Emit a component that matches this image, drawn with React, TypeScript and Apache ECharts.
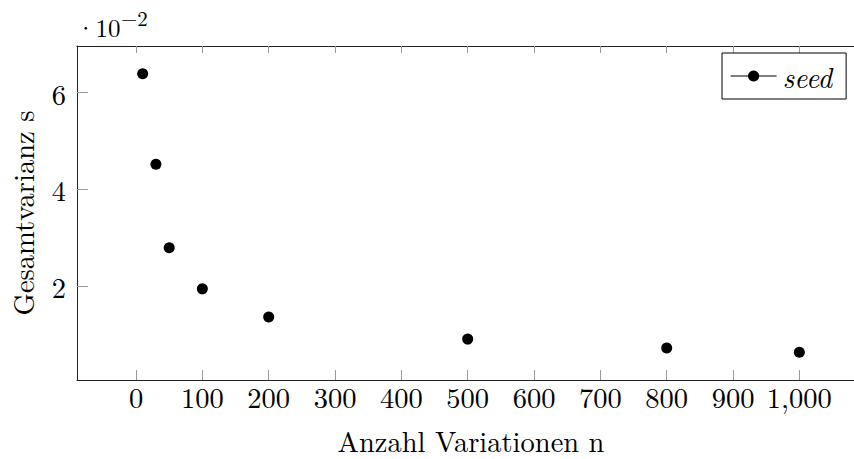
import React, { useEffect, useRef } from "react";
import * as echarts from "echarts";

const variations = [10, 30, 50, 100, 200, 500, 800, 1000];
const seedVariance = [0.0639, 0.0452, 0.0279, 0.0194, 0.0136, 0.0090, 0.00715, 0.0063];
const xTicks = [0, 100, 200, 300, 400, 500, 600, 700, 800, 900, 1000];
const yTicks = [0.02, 0.04, 0.06];
const seriesName = "seed";
const xName = "Anzahl Variationen n";
const yName = "Gesamtvarianz s";
const scaleBase = "·10";
const scaleExp = "−2";

const FONT = "Latin Modern Roman";
const FS = 28.5;

export default function App() {
  const ref = useRef<HTMLDivElement>(null);
  useEffect(() => {
    if (!ref.current) return;
    const chart = echarts.init(ref.current, undefined, { renderer: "svg" });
    const axisLine = { show: true, onZero: false, lineStyle: { color: "#222", width: 1 } };
    chart.setOption({
      animation: false,
      backgroundColor: "#fff",
      grid: { left: 77, top: 46, width: 788, height: 334, containLabel: false, outerBoundsMode: "none" },
      legend: {
        left: 722,
        top: 53,
        itemWidth: 46,
        itemHeight: 14,
        itemGap: 0,
        padding: [8, 14, 8, 8],
        borderColor: "#000",
        borderWidth: 1,
        backgroundColor: "#fff",
        lineStyle: { color: "#000", width: 1.2, opacity: 1 },
        textStyle: { fontFamily: FONT, fontStyle: "italic", fontSize: FS, color: "#000", lineHeight: 30, padding: [0, 0, 0, 1] },
        data: [seriesName],
      },
      xAxis: [
        {
          type: "value",
          min: -89,
          max: 1099,
          position: "bottom",
          name: xName,
          nameLocation: "middle",
          nameGap: 46,
          nameTextStyle: { fontFamily: FONT, fontSize: FS, color: "#000", lineHeight: 28 },
          axisLine,
          splitLine: { show: false },
          axisTick: { show: true, inside: true, length: 10, customValues: xTicks, lineStyle: { color: "#999" } },
          axisLabel: {
            customValues: xTicks,
            fontFamily: FONT,
            fontSize: FS,
            color: "#000",
            margin: 1,
            formatter: (v: number) => v.toLocaleString("en-US"),
          },
        },
        {
          type: "value",
          min: -89,
          max: 1099,
          position: "top",
          axisLine,
          splitLine: { show: false },
          axisTick: { show: true, inside: true, length: 7, customValues: xTicks, lineStyle: { color: "#999" } },
          axisLabel: { show: false },
        },
      ],
      yAxis: {
        type: "value",
        min: 0.00054,
        max: 0.06966,
        name: yName,
        nameLocation: "middle",
        nameGap: 41,
        nameTextStyle: { fontFamily: FONT, fontSize: FS, color: "#000", lineHeight: 28 },
        axisLine,
        splitLine: { show: false },
        axisTick: { show: true, inside: true, length: 11, customValues: yTicks, lineStyle: { color: "#999" } },
        axisLabel: {
          customValues: yTicks,
          fontFamily: FONT,
          fontSize: FS,
          color: "#000",
          margin: 11,
          padding: [0, 0, 6, 0],
          formatter: (v: number) => String(Math.round(v * 100)),
        },
      },
      graphic: [
        {
          type: "text",
          left: 76,
          top: 14,
          style: { text: scaleBase, fontFamily: FONT, fontSize: 25, fill: "#000" },
        },
        {
          type: "text",
          left: 121,
          top: 6,
          style: { text: scaleExp, fontFamily: FONT, fontSize: 21, fill: "#000" },
        },
      ],
      series: [
        {
          name: seriesName,
          type: "line",
          xAxisIndex: 0,
          data: variations.map((x, i) => [x, seedVariance[i]]),
          symbol: "circle",
          symbolSize: 11,
          showSymbol: true,
          itemStyle: { color: "#000" },
          lineStyle: { opacity: 0 },
        },
      ],
    });
    return () => chart.dispose();
  }, []);
  return <div ref={ref} style={{ position: "absolute", left: 0, top: 0, width: 854, height: 459 }} />;
}
